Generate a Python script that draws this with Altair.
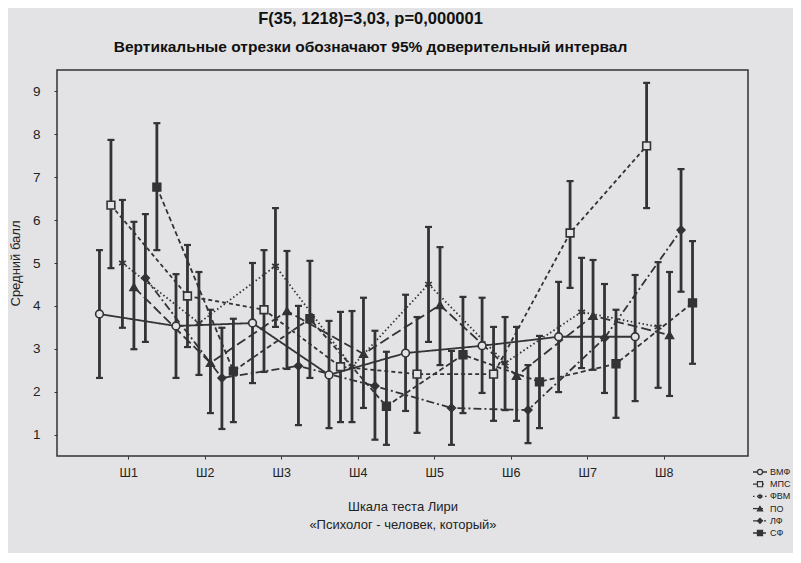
import altair as alt
import pandas as pd

scales = ["Ш1", "Ш2", "Ш3", "Ш4", "Ш5", "Ш6", "Ш7", "Ш8"]
groups = ["ВМФ", "МПС", "ФВМ", "ПО", "ЛФ", "СФ"]

mean_0 = [3.81, 3.53, 3.60, 2.39, 2.90, 3.07, 3.28, 3.28]
lo_0 = [2.32, 2.32, 2.20, 1.15, 1.55, 1.97, 1.99, 1.78]
hi_0 = [5.30, 4.74, 5.00, 3.65, 4.26, 4.19, 4.56, 4.72]

mean_1 = [6.35, 4.23, 3.91, 2.58, 2.41, 2.41, 5.70, 7.73]
lo_1 = [4.88, 3.04, 2.46, 1.29, 1.04, 1.32, 4.42, 6.28]
hi_1 = [7.87, 5.42, 5.30, 3.86, 3.74, 3.51, 6.91, 9.20]

mean_2 = [5.00, 3.60, 4.93, 2.58, 4.51, 2.67, 3.86, 3.51]
lo_2 = [3.49, 2.39, 3.51, 1.29, 3.16, 1.57, 2.55, 2.09]
hi_2 = [6.47, 4.79, 6.28, 3.88, 5.84, 3.74, 5.12, 5.02]

mean_3 = [4.44, 2.67, 3.88, 2.88, 4.02, 2.37, 3.77, 3.32]
lo_3 = [2.99, 1.50, 2.53, 1.62, 2.62, 1.32, 2.51, 1.90]
hi_3 = [5.96, 3.91, 5.28, 4.19, 5.37, 3.51, 5.07, 4.79]

mean_4 = [4.65, 2.32, 2.60, 2.13, 1.62, 1.57, 3.25, 5.77]
lo_4 = [3.16, 1.13, 1.22, 0.88, 0.76, 0.80, 1.97, 4.33]
hi_4 = [6.14, 3.49, 4.00, 3.42, 2.95, 2.62, 4.51, 7.19]

mean_5 = [6.77, 2.48, 3.70, 1.66, 2.86, 2.23, 2.65, 4.07]
lo_5 = [5.30, 1.29, 2.32, 0.76, 1.50, 1.15, 1.39, 2.65]
hi_5 = [8.26, 3.70, 5.05, 2.93, 4.21, 3.30, 3.91, 5.51]

means = [mean_0, mean_1, mean_2, mean_3, mean_4, mean_5]
los = [lo_0, lo_1, lo_2, lo_3, lo_4, lo_5]
his = [hi_0, hi_1, hi_2, hi_3, hi_4, hi_5]

rows = []
for gi, g in enumerate(groups):
    for si, s in enumerate(scales):
        rows.append({"group": g, "gi": gi, "scale": s, "si": si + 1,
                     "mean": means[gi][si], "lo": los[gi][si], "hi": his[gi][si]})
df = pd.DataFrame(rows)
leg_df = pd.DataFrame({"group": groups, "gi": list(range(len(groups)))})

DARK = "#333335"
BG = "#e3e3e5"
FONT = "Liberation Sans"

asterisk = "M0,-1L0,1M-0.87,-0.5L0.87,0.5M-0.87,0.5L0.87,-0.5"
shapes = ["circle", "square", asterisk, "triangle-up", "diamond", "square"]
fills = [BG, BG, BG, DARK, DARK, DARK]
dashes = [[1, 0], [4, 3], [1.5, 2.5], [10, 4], [8, 3, 2, 3], [5, 3]]

shape_scale = alt.Scale(domain=groups, range=shapes)
fill_scale = alt.Scale(domain=groups, range=fills)
dash_scale = alt.Scale(domain=groups, range=dashes)

label_expr = "[" + ",".join("'%s'" % s for s in scales) + "][datum.value - 1]"

xscale = alt.Scale(domain=[0.07, 9.1], nice=False, zero=False)
yscale = alt.Scale(domain=[0.5, 9.5], nice=False, zero=False)

x_axis = alt.Axis(values=list(range(1, 9)), labelExpr=label_expr,
                  title=["Шкала теста Лири", "«Психолог - человек, который»"],
                  labelFontSize=12.5, labelPadding=7, titleFontSize=13,
                  titlePadding=22, titleLineHeight=18, grid=False,
                  domain=False, tickSize=3, tickColor=DARK,
                  labelColor="#222", titleColor="#222",
                  titleFontWeight="normal", labelFont=FONT, titleFont=FONT)
y_axis = alt.Axis(values=list(range(1, 10)), title="Средний балл",
                  labelFontSize=13.5, labelPadding=14, titleFontSize=13,
                  titlePadding=10, grid=False, domain=False, tickSize=3,
                  tickColor=DARK, labelColor="#222", titleColor="#222",
                  titleFontWeight="normal", labelFont=FONT, titleFont=FONT)


def X():
    return alt.X("xp:Q", scale=xscale, axis=x_axis)


def Y(field):
    return alt.Y(field + ":Q", scale=yscale, axis=y_axis)


base = alt.Chart(df).transform_calculate(xp="datum.si + (datum.gi - 2.5) * 0.15")

lines = base.mark_line(color=DARK, strokeWidth=1.8).encode(
    x=X(), y=Y("mean"), detail="group:N", order="si:Q",
    strokeDash=alt.StrokeDash("group:N", scale=dash_scale, legend=None),
)
bars = base.mark_rule(color=DARK, strokeWidth=2.8).encode(x=X(), y=Y("lo"), y2="hi:Q")
cap_lo = base.mark_tick(orient="horizontal", size=7, thickness=2.2, color=DARK, opacity=1).encode(
    x=X(), y=Y("lo"))
cap_hi = base.mark_tick(orient="horizontal", size=7, thickness=2.2, color=DARK, opacity=1).encode(
    x=X(), y=Y("hi"))
points = base.mark_point(filled=False, size=60, strokeWidth=1.6, color=DARK, opacity=1).encode(
    x=X(), y=Y("mean"),
    shape=alt.Shape("group:N", scale=shape_scale, legend=None),
    fill=alt.Fill("group:N", scale=fill_scale, legend=None),
)
main = alt.layer(lines, bars, cap_lo, cap_hi, points)

# legend block at the lower right, outside the frame
ly = alt.Y("gi:Q", scale=alt.Scale(domain=[0, 5], range=[402, 463]), axis=None)
leg_base = alt.Chart(leg_df)
leg_lines = leg_base.mark_rule(color=DARK, strokeWidth=1.3).encode(
    x=alt.value(696), x2=alt.value(710), y=ly,
    strokeDash=alt.StrokeDash("group:N", scale=dash_scale, legend=None),
)
leg_pts = leg_base.mark_point(filled=False, size=26, strokeWidth=1.2, color=DARK, opacity=1).encode(
    x=alt.value(703), y=ly,
    shape=alt.Shape("group:N", scale=shape_scale, legend=None),
    fill=alt.Fill("group:N", scale=fill_scale, legend=None),
)
leg_txt = leg_base.mark_text(align="left", baseline="middle", font=FONT, fontSize=9,
                             color="#222").encode(x=alt.value(713), y=ly, text="group:N")
legend = alt.layer(leg_lines, leg_pts, leg_txt)

chart = alt.layer(main, legend).resolve_scale(y="independent").properties(
    width=691, height=386,
    autosize=alt.AutoSizeParams(type="none"),
    padding={"left": 49, "top": 62, "right": 45, "bottom": 97},
    background=BG,
    title=alt.TitleParams(
        text="F(35, 1218)=3,03, p=0,000001",
        subtitle="Вертикальные отрезки обозначают 95% доверительный интервал",
        fontSize=16.5, fontWeight="bold", font=FONT, color="#111",
        subtitleFontSize=15.5, subtitleFontWeight="bold", subtitleFont=FONT,
        subtitleColor="#111", subtitlePadding=12,
        anchor="middle", offset=15, dx=-32),
).configure_view(stroke=DARK, strokeWidth=1.5)

chart.save("out.html", embed_options={"renderer": "svg", "actions": False})
